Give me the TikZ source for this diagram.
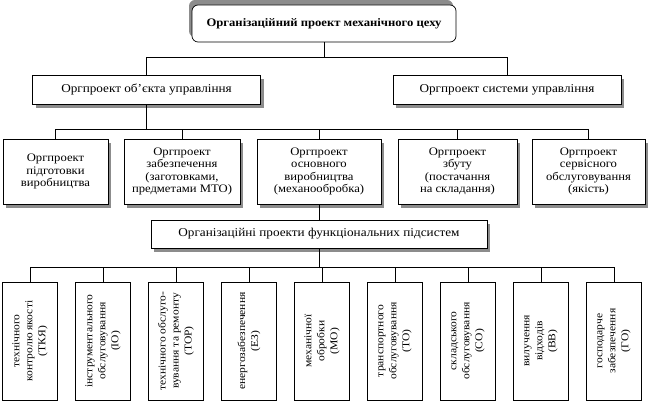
\documentclass[tikz,border=0pt]{standalone}
\usepackage{fontspec}
\setmainfont[FakeStretch=1.1]{Liberation Serif}
\usetikzlibrary{positioning, shadows}
\definecolor{shadowgray}{HTML}{8C8C8C}

\begin{document}
\begin{tikzpicture}[x=1pt, y=-1pt, line width=0.7pt,
  title box/.style={rectangle, rounded corners=6pt, draw=black, fill=white, minimum width=264pt, minimum height=37pt, font=\fontsize{11.5}{13}\selectfont\bfseries,
    drop shadow={shadow xshift=-3pt, shadow yshift=5pt, fill=shadowgray, opacity=1}},
  group box/.style={rectangle, draw=black, fill=white, minimum width=228pt, minimum height=29pt, font=\fontsize{12}{13}\selectfont,
    drop shadow={shadow xshift=3pt, shadow yshift=-4pt, fill=shadowgray, opacity=1}},
  project box/.style={rectangle, draw=black, fill=white, minimum height=65pt, align=center, inner sep=1pt, font=\fontsize{11.5}{12.5}\selectfont,
    drop shadow={shadow xshift=3pt, shadow yshift=-4pt, fill=shadowgray, opacity=1}},
  func box/.style={rectangle, draw=black, fill=white, rotate=90, minimum width=118pt, minimum height=55pt, align=center, inner sep=1pt, font=\fontsize{10.5}{13}\selectfont},
]
  \useasboundingbox (0,0) rectangle (650,403);

  % Top
  \node[title box] (top) at (324,23.5) {Організаційний проект механічного цеху};

  % Object and system
  \node[group box] (obj) at (146.5,89.5) {Оргпроект об’єкта управління};
  \node[group box] (sys) at (507,89.5) {Оргпроект системи управління};

  % Projects of the object
  \node[project box, minimum width=105pt] (prep) at (55.5,171.5) {Оргпроект\\підготовки\\виробництва};
  \node[project box, minimum width=116pt] (supp) at (182,171.5) {Оргпроект\\забезпечення\\(заготовками,\\предметами МТО)};
  \node[project box, minimum width=124pt] (main) at (319,171.5) {Оргпроект\\основного\\виробництва\\(механообробка)};
  \node[project box, minimum width=119pt] (sale) at (457.5,171.5) {Оргпроект\\збуту\\(постачання\\на складання)};
  \node[project box, minimum width=113pt] (serv) at (588.5,171.5) {Оргпроект\\сервісного\\обслуговування\\(якість)};

  % Subsystems
  \node[group box, minimum width=336pt, minimum height=28pt] (subs) at (319,234) {Організаційні проекти функціональних підсистем};

  \foreach \i/\txt in {0/{технічного\\контролю якості\\(ТКЯ)},
                       1/{інструментального\\обслуговування\\(ІО)},
                       2/{технічного обслуго-\\вування та ремонту\\(ТОР)},
                       3/{енергозабезпечення\\(ЕЗ)},
                       4/{механічної\\обробки\\(МО)},
                       5/{транспортного\\обслуговування\\(ТО)},
                       6/{складського\\обслуговування\\(СО)},
                       7/{вилучення\\відходів\\(ВВ)},
                       8/{господарче\\забезпечення\\(ГО)}}
    \node[func box] (f\i) at (30+73*\i,341) {\txt};

  % Lines
  \draw (top.south) -- ++(0,15.5) -| (obj.north);
  \draw (top.south) -- ++(0,15.5) -| (sys.north);
  \foreach \n in {prep,supp,main,sale,serv}
    \draw (obj.south) -- ++(0,25) -| (\n.north);
  \draw (main.south) -- (subs.north);
  \foreach \i in {0,...,8}
    \draw (subs.south) -- ++(0,19) -| (f\i.east);

\end{tikzpicture}
\end{document}
